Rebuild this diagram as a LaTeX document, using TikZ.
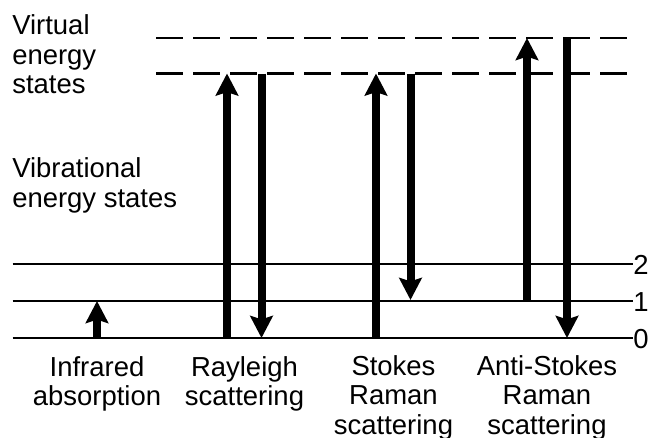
\documentclass[tikz,border=0pt]{standalone}
\usepackage{fontspec}
\setmainfont{Liberation Sans}
\usetikzlibrary{arrows.meta}

\tikzset{
  level/.style={line width=2pt},
  virtual/.style={line width=2pt, dash pattern=on 20.25pt off 7.5pt},
  transition/.style={line width=6pt,
    -{Stealth[length=16.5pt, width=16.8pt, inset=2.5pt]}},
  lbl/.style={inner sep=0pt, font=\fontsize{20.6}{22}\selectfont},
}

\begin{document}
\begin{tikzpicture}[x=0.75pt, y=-0.75pt]
  \useasboundingbox (0,0) rectangle (654,437);

  % vibrational levels 0, 1, 2
  \coordinate (l0a) at (12.5,338);  \coordinate (l0b) at (633,338);
  \coordinate (l1a) at (12.5,301);  \coordinate (l1b) at (633,301);
  \coordinate (l2a) at (12.5,264);  \coordinate (l2b) at (633,264);
  \draw[level] (l0a) -- (l0b);
  \draw[level] (l1a) -- (l1b);
  \draw[level] (l2a) -- (l2b);

  % virtual levels
  \coordinate (v1a) at (156,73.5); \coordinate (v1b) at (630,73.5);
  \coordinate (v2a) at (156,38);   \coordinate (v2b) at (630,38);
  \draw[virtual] (v1a) -- (v1b);
  \draw[virtual] (v2a) -- (v2b);

  % level numbers
  \node[lbl, anchor=base west] (n2) at (633,274) {2};
  \node[lbl, anchor=base west] (n1) at (633,311) {1};
  \node[lbl, anchor=base west] (n0) at (633,348) {0};

  % side labels (base anchor = baseline of the last line)
  \node[lbl, anchor=base west, align=left] (virt) at (12,93.5)
    {Virtual\\energy\\states};
  \node[lbl, anchor=base west, align=left] (vib) at (12,207)
    {Vibrational\\energy states};

  % infrared absorption
  \coordinate (ir0) at (97,338);  \coordinate (ir1) at (97,301);
  \draw[transition] (ir0) -- (ir1);

  % Rayleigh scattering
  \coordinate (ry0) at (227,338);   \coordinate (ry1) at (227,73.5);
  \coordinate (rd0) at (261.5,73.5); \coordinate (rd1) at (261.5,338);
  \draw[transition] (ry0) -- (ry1);
  \draw[transition] (rd0) -- (rd1);

  % Stokes Raman scattering
  \coordinate (st0) at (376,338);   \coordinate (st1) at (376,73.5);
  \coordinate (sd0) at (410.5,73.5); \coordinate (sd1) at (410.5,300);
  \draw[transition] (st0) -- (st1);
  \draw[transition] (sd0) -- (sd1);

  % anti-Stokes Raman scattering
  \coordinate (as0) at (527,301);  \coordinate (as1) at (527,38);
  \coordinate (ad0) at (567,38);   \coordinate (ad1) at (567,338);
  \draw[transition] (as0) -- (as1);
  \draw[transition] (ad0) -- (ad1);

  % process names
  \node[lbl, anchor=base, align=center] (irl) at (97,405.5)
    {Infrared\\absorption};
  \node[lbl, anchor=base, align=center] (ryl) at (244.5,405.5)
    {Rayleigh\\scattering};
  \node[lbl, anchor=base, align=center] (stl) at (393.5,434)
    {Stokes\\Raman\\scattering};
  \node[lbl, anchor=base, align=center] (asl) at (547,434)
    {Anti-Stokes\\Raman\\scattering};
\end{tikzpicture}
\end{document}
